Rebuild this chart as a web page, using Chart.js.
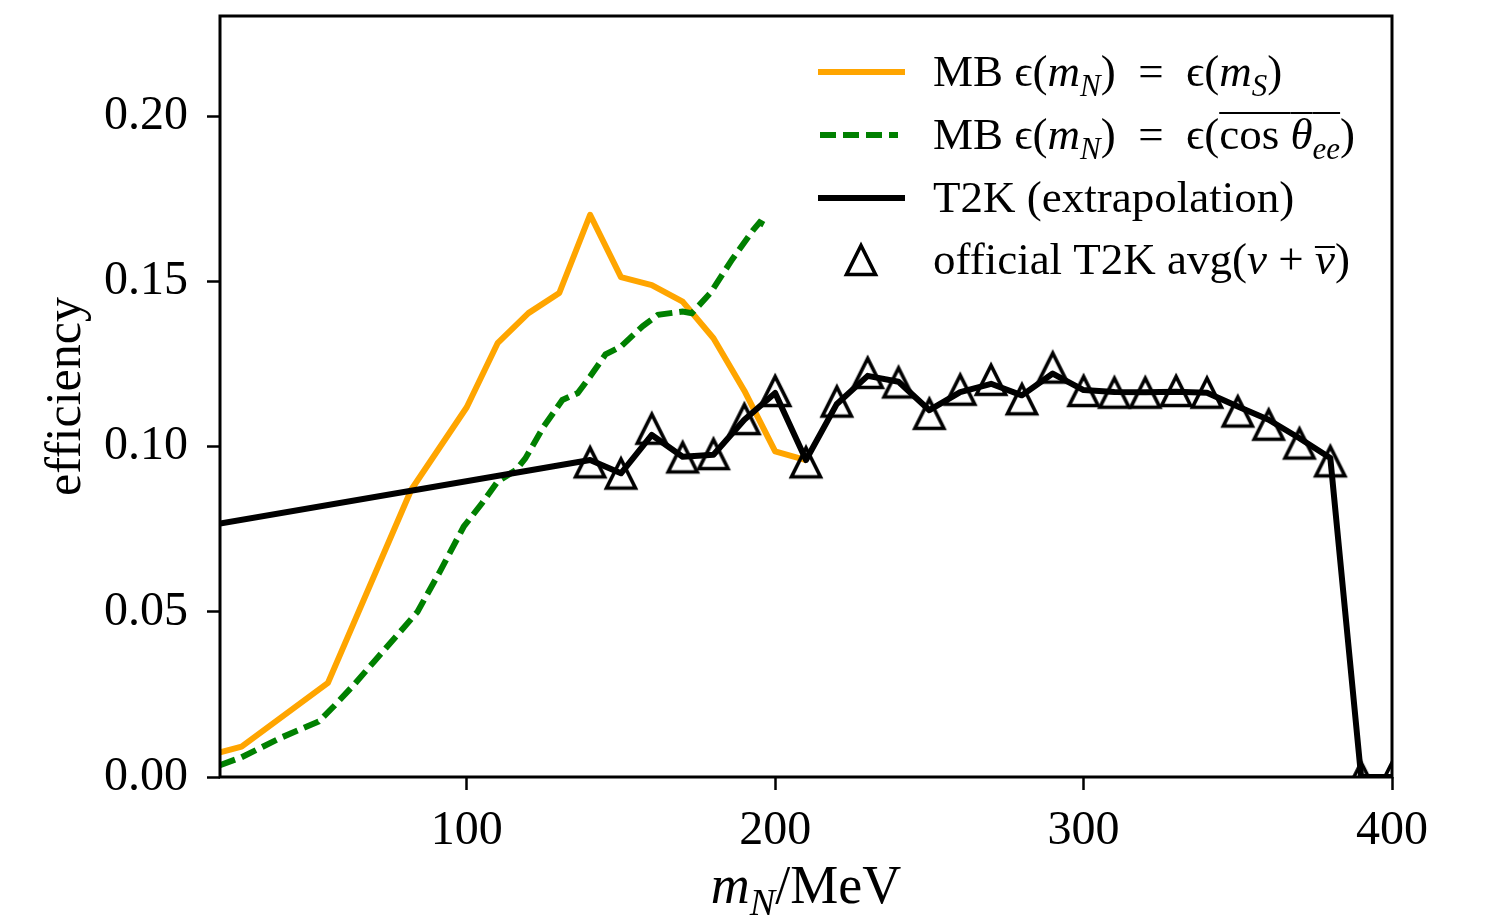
<!DOCTYPE html>
<html>
<head>
<meta charset="utf-8">
<script src="https://cdn.jsdelivr.net/npm/chart.js@4.4.0/dist/chart.umd.min.js"></script>
<style>
  html, body { margin: 0; padding: 0; background: #fff; }
</style>
</head>
<body>
<canvas id="effChart" width="1485" height="919"></canvas>
<script>
const xTicks = [100, 200, 300, 400];
const yTicks = [0, 0.05, 0.10, 0.15, 0.20];

// MB eps(m_N) = eps(m_S)
const mbMassX = [20, 27, 55, 82, 100, 110, 120, 130, 140, 150, 160, 170, 180, 190, 200, 210];
const mbMassY = [0.0075, 0.0092, 0.0285, 0.087, 0.112, 0.1314, 0.1405, 0.1466, 0.1703, 0.1514, 0.149, 0.144, 0.1329, 0.117, 0.0986, 0.096];

// MB eps(m_N) = eps(cos theta_ee)
const mbCosX = [20, 27, 40, 52, 57, 63, 70, 77, 84, 91, 99, 105, 110, 116, 119, 125, 131, 136, 140, 145, 150, 157, 162, 170, 173, 179, 186, 193, 195, 197];
const mbCosY = [0.0036, 0.006, 0.012, 0.0168, 0.0215, 0.0275, 0.035, 0.0425, 0.05, 0.0617, 0.0758, 0.083, 0.0895, 0.093, 0.0965, 0.1062, 0.1142, 0.1163, 0.1213, 0.128, 0.1304, 0.1365, 0.14, 0.141, 0.1405, 0.1466, 0.1567, 0.1658, 0.168, 0.167];

// T2K extrapolation
const t2kX = [20, 140, 150, 160, 170, 180, 190, 200, 210, 220, 230, 240, 250, 260, 270, 280, 290, 300, 310, 320, 330, 340, 350, 360, 370, 380, 390, 400];
const t2kY = [0.0768, 0.096, 0.092, 0.1036, 0.097, 0.0976, 0.1082, 0.1163, 0.096, 0.113, 0.1215, 0.1197, 0.1111, 0.1166, 0.1191, 0.1156, 0.1222, 0.1172, 0.1166, 0.1165, 0.1167, 0.1164, 0.1122, 0.1082, 0.1026, 0.0966, 0, 0];

// official T2K avg(nu + nubar)
const offX = [140, 150, 160, 170, 180, 190, 200, 210, 220, 230, 240, 250, 260, 270, 280, 290, 300, 310, 320, 330, 340, 350, 360, 370, 380, 390, 400];
const offY = [0.0953, 0.0919, 0.1055, 0.0968, 0.0978, 0.1084, 0.1169, 0.0953, 0.1137, 0.1224, 0.1195, 0.110, 0.1173, 0.1203, 0.1144, 0.124, 0.1169, 0.1164, 0.1164, 0.1169, 0.1164, 0.1107, 0.1067, 0.101, 0.0956, 0, 0];

const pts = (xs, ys) => xs.map((x, i) => ({ x, y: ys[i] }));

const SERIF = '"Liberation Serif", "DejaVu Serif", serif';

// open triangle like matplotlib '^'
function makeTriangle() {
  const c = document.createElement('canvas');
  c.width = c.height = 42;
  const g = c.getContext('2d');
  const m = 21, h = 14.5;
  g.beginPath();
  g.moveTo(m, m - h);
  g.lineTo(m - h, m + h);
  g.lineTo(m + h, m + h);
  g.closePath();
  g.lineWidth = 3.6;
  g.lineJoin = 'miter';
  g.strokeStyle = '#000';
  g.stroke();
  return c;
}
const tri = makeTriangle();

// text with italic / subscript / overline pieces
function drawRich(ctx, parts, x, y, size, align) {
  const fontOf = p => `${p.it ? 'italic ' : ''}${p.sub ? Math.round(size * 0.7) : size}px ${SERIF}`;
  let total = 0;
  parts.forEach(p => { ctx.font = fontOf(p); p.w = ctx.measureText(p.t).width; total += p.w; });
  let cx = align === 'center' ? x - total / 2 : x;
  ctx.textAlign = 'left';
  ctx.textBaseline = 'alphabetic';
  parts.forEach(p => {
    ctx.font = fontOf(p);
    ctx.fillText(p.t, cx, y + (p.sub ? size * 0.22 : 0));
    if (p.over) {
      ctx.beginPath();
      ctx.lineWidth = 2;
      ctx.moveTo(cx, y - size * p.over);
      ctx.lineTo(cx + p.w, y - size * p.over);
      ctx.stroke();
    }
    cx += p.w;
  });
}

const legendRows = [
  [{t: 'MB '}, {t: 'ϵ'}, {t: '('}, {t: 'm', it: 1}, {t: 'N', it: 1, sub: 1}, {t: ')  =  '}, {t: 'ϵ'}, {t: '('}, {t: 'm', it: 1}, {t: 'S', it: 1, sub: 1}, {t: ')'}],
  [{t: 'MB '}, {t: 'ϵ'}, {t: '('}, {t: 'm', it: 1}, {t: 'N', it: 1, sub: 1}, {t: ')  =  '}, {t: 'ϵ'}, {t: '('},
   {t: 'cos ', over: 0.8}, {t: 'θ', it: 1, over: 0.8}, {t: 'ee', it: 1, sub: 1, over: 0.8}, {t: ')'}],
  [{t: 'T2K (extrapolation)'}],
  [{t: 'official T2K avg('}, {t: 'ν', it: 1}, {t: ' + '}, {t: 'ν', it: 1, over: 0.6}, {t: ')'}]
];

const decor = {
  id: 'decor',
  afterDatasetsDraw(chart) {
    const { ctx, chartArea: a } = chart;
    ctx.save();
    ctx.strokeStyle = '#000';
    ctx.lineWidth = 3;
    ctx.strokeRect(a.left, a.top, a.right - a.left, a.bottom - a.top);
    ctx.restore();
  },
  afterDraw(chart) {
    const { ctx, chartArea: a } = chart;
    ctx.save();
    ctx.fillStyle = '#000';
    ctx.strokeStyle = '#000';

    // axis titles
    drawRich(ctx, [{t: 'm', it: 1}, {t: 'N', it: 1, sub: 1}, {t: '/MeV'}], (a.left + a.right) / 2, 903, 54, 'center');
    ctx.save();
    ctx.translate(80, (a.top + a.bottom) / 2);
    ctx.rotate(-Math.PI / 2);
    ctx.font = `50px ${SERIF}`;
    ctx.textAlign = 'center';
    ctx.textBaseline = 'alphabetic';
    ctx.fillText('efficiency', 0, 0);
    ctx.restore();

    // legend
    const rowY = [72, 135, 198, 260];
    ctx.lineCap = 'butt';
    ctx.lineWidth = 6;
    ctx.strokeStyle = 'orange';
    ctx.beginPath(); ctx.moveTo(818, rowY[0]); ctx.lineTo(905, rowY[0]); ctx.stroke();
    ctx.strokeStyle = 'green';
    ctx.setLineDash([16, 7]);
    ctx.beginPath(); ctx.moveTo(820, rowY[1]); ctx.lineTo(898, rowY[1]); ctx.stroke();
    ctx.setLineDash([]);
    ctx.strokeStyle = '#000';
    ctx.beginPath(); ctx.moveTo(818, rowY[2]); ctx.lineTo(905, rowY[2]); ctx.stroke();
    ctx.drawImage(tri, 861 - 21, rowY[3] - 21);

    legendRows.forEach((row, i) => drawRich(ctx, row, 933, rowY[i] + 14, 45, 'left'));
    ctx.restore();
  }
};

new Chart(document.getElementById('effChart'), {
  type: 'line',
  data: {
    datasets: [
      {
        label: 'official T2K avg',
        data: pts(offX, offY),
        showLine: false,
        pointStyle: tri,
        pointRadius: 15,
        borderColor: '#000',
        backgroundColor: 'transparent',
        clip: 0,
        order: 0
      },
      {
        label: 'T2K (extrapolation)',
        data: pts(t2kX, t2kY),
        borderColor: '#000',
        borderWidth: 6,
        pointRadius: 0,
        borderJoinStyle: 'round',
        clip: 0,
        order: 1
      },
      {
        label: 'MB cos',
        data: pts(mbCosX, mbCosY),
        borderColor: 'green',
        borderWidth: 6,
        borderDash: [16, 7],
        pointRadius: 0,
        clip: 0,
        order: 2
      },
      {
        label: 'MB mS',
        data: pts(mbMassX, mbMassY),
        borderColor: 'orange',
        borderWidth: 6,
        pointRadius: 0,
        borderJoinStyle: 'round',
        clip: 0,
        order: 3
      }
    ]
  },
  options: {
    responsive: false,
    animation: false,
    layout: { padding: { left: 0, top: 16, right: 93, bottom: 0 } },
    plugins: { legend: { display: false }, tooltip: { enabled: false } },
    scales: {
      x: {
        type: 'linear',
        min: 20,
        max: 400,
        afterFit: s => { s.height = 142; s.paddingLeft = 0; s.paddingRight = 0; },
        afterBuildTicks: s => { s.ticks = xTicks.map(v => ({ value: v })); },
        grid: { drawOnChartArea: false, tickLength: 13, tickWidth: 2.5, tickColor: '#000' },
        border: { display: false },
        ticks: { color: '#000', padding: 13, font: { family: SERIF, size: 48 }, maxRotation: 0 }
      },
      y: {
        min: 0,
        max: 0.2305,
        afterFit: s => { s.width = 220; s.paddingTop = 0; s.paddingBottom = 0; },
        afterBuildTicks: s => { s.ticks = yTicks.map(v => ({ value: v })); },
        grid: { drawOnChartArea: false, tickLength: 13, tickWidth: 2.5, tickColor: '#000' },
        border: { display: false },
        ticks: { color: '#000', padding: 19, font: { family: SERIF, size: 48 }, callback: v => v.toFixed(2) }
      }
    }
  },
  plugins: [decor]
});
</script>
</body>
</html>
